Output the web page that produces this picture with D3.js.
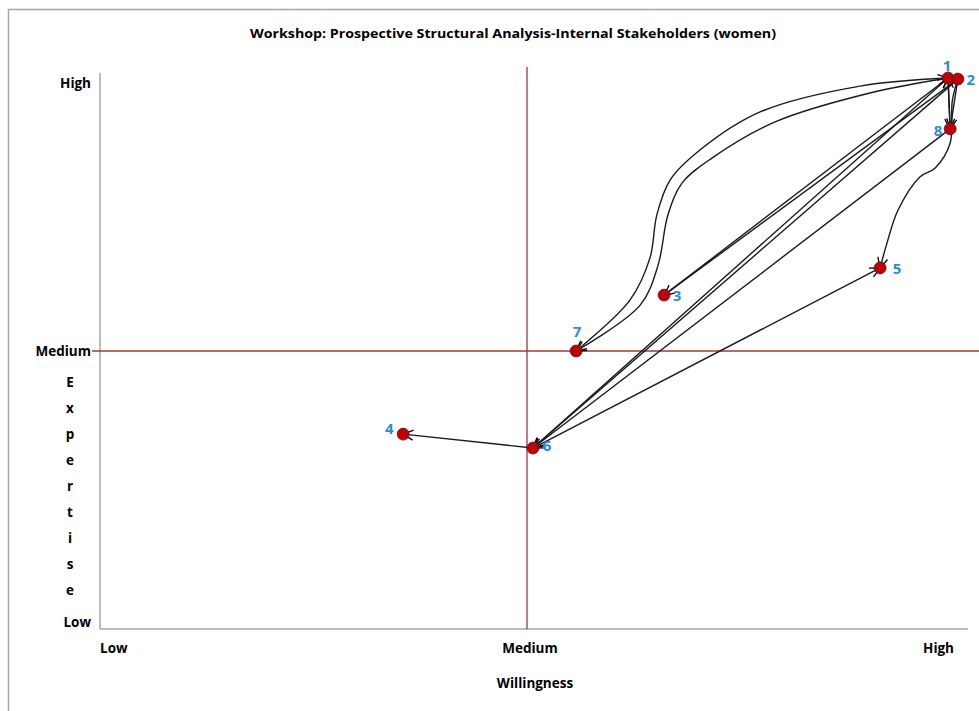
<!DOCTYPE html>
<html>
<head>
<meta charset="utf-8">
<script src="https://cdn.jsdelivr.net/npm/d3@7/dist/d3.min.js"></script>
<style>
  html, body { margin: 0; padding: 0; background: #fff; }
  svg { display: block; }
  text { font-family: "Open Sans", "Noto Sans", sans-serif; }
</style>
</head>
<body>
<svg id="chart" width="979" height="711"></svg>
<script>
// ---------- data ----------
const title = "Workshop: Prospective Structural Analysis-Internal Stakeholders (women)";
const xTitle = "Willingness";
const yTitle = "Expertise";
const levelLabels = ["Low", "Medium", "High"];   // tick labels for 0, 1, 2

const nodeIds    = ["1", "2", "3", "4", "5", "6", "7", "8"];
const willingness = [1.986, 2.009, 1.321, 0.710, 1.827, 1.014, 1.115, 1.991];
const expertise   = [1.982, 1.978, 1.201, 0.701, 1.299, 0.651, 1.000, 1.799];

// influence links: source, target, arrow ends, optional intermediate waypoints (data units)
const linkSource = ["6", "6", "1", "2", "8", "3", "2", "7", "7", "1", "2", "2", "8"];
const linkTarget = ["4", "5", "6", "6", "6", "1", "3", "1", "1", "8", "8", "5", "1"];
const linkArrows = ["end", "both", "end", "end", "end", "end", "end", "start", "both", "end", "end", "end", "end"];
const linkVia = [
  [], [], [], [], [], [], [],
  [[1.241, 1.183], [1.288, 1.335], [1.304, 1.489], [1.335, 1.615], [1.405, 1.723], [1.546, 1.860], [1.780, 1.953]],
  [[1.265, 1.165], [1.307, 1.309], [1.330, 1.489], [1.363, 1.604], [1.433, 1.694], [1.581, 1.824], [1.803, 1.928]],
  [], [],
  [[1.996, 1.900], [1.991, 1.748], [1.956, 1.658], [1.920, 1.626], [1.869, 1.507], [1.843, 1.388]],
  []
];

// ---------- layout / style ----------
const labelOffset = {
  "1": [-1, -12], "2": [13, 1], "3": [13, 1], "4": [-14, -5],
  "5": [17, 1], "6": [14, -2], "7": [1, -19], "8": [-12, 2]
};

const svg = d3.select("#chart");
const x = d3.scaleLinear().domain([0, 2]).range([100, 954]);
const y = d3.scaleLinear().domain([0, 2]).range([629, 73]);

// frame
svg.append("rect").attr("x", 8.5).attr("y", 9.5).attr("width", 1000).attr("height", 720)
  .attr("fill", "none").attr("stroke", "#a6a6a6").attr("stroke-width", 1.5);

// title
svg.append("text").attr("x", 513).attr("y", 38).attr("text-anchor", "middle")
  .attr("font-size", 12.5).attr("font-weight", "bold").attr("fill", "#000")
  .attr("textLength", 526).attr("lengthAdjust", "spacingAndGlyphs").text(title);

// axes lines
svg.append("line").attr("x1", x(0)).attr("x2", x(0)).attr("y1", y(2)).attr("y2", y(0))
  .attr("stroke", "#a6a6a6").attr("stroke-width", 1.5);
svg.append("line").attr("x1", x(0)).attr("x2", x(2.033)).attr("y1", y(0)).attr("y2", y(0))
  .attr("stroke", "#a6a6a6").attr("stroke-width", 1.5);

// quadrant lines (medium)
svg.append("line").attr("x1", x(0) - 8).attr("x2", 979).attr("y1", y(1)).attr("y2", y(1))
  .attr("stroke", "#a4343a").attr("stroke-width", 1.3);
svg.append("line").attr("x1", x(1)).attr("x2", x(1)).attr("y1", y(2) - 6).attr("y2", y(0))
  .attr("stroke", "#a4343a").attr("stroke-width", 1.3);

// y tick labels
const yLabelPos = [y(0) - 7, y(1), y(2) + 10];
levelLabels.forEach((t, i) => {
  svg.append("text").attr("x", 91).attr("y", yLabelPos[i]).attr("dy", "0.35em")
    .attr("text-anchor", "end").attr("font-size", 13.5).attr("font-weight", "bold").text(t);
});
// x tick labels
const xAnchors = ["start", "middle", "end"];
const xLabelPos = [x(0), x(1) + 3, x(2)];
levelLabels.forEach((t, i) => {
  svg.append("text").attr("x", xLabelPos[i]).attr("y", 648).attr("dy", "0.35em")
    .attr("text-anchor", xAnchors[i]).attr("font-size", 13.5).attr("font-weight", "bold").text(t);
});

// axis titles
svg.append("text").attr("x", 535).attr("y", 683).attr("dy", "0.35em").attr("text-anchor", "middle")
  .attr("font-size", 13.5).attr("font-weight", "bold").text(xTitle);
yTitle.split("").forEach((c, i) => {
  svg.append("text").attr("x", 70).attr("y", 382 + i * 26).attr("dy", "0.35em").attr("text-anchor", "middle")
    .attr("font-size", 13.5).attr("font-weight", "bold").text(c);
});

// arrow markers
const defs = svg.append("defs");
defs.append("marker").attr("id", "arrEnd").attr("viewBox", "0 0 12 12")
  .attr("refX", 11).attr("refY", 6).attr("markerWidth", 12).attr("markerHeight", 12)
  .attr("markerUnits", "userSpaceOnUse").attr("orient", "auto")
  .append("path").attr("d", "M1,1 L11,6 L1,11").attr("fill", "none").attr("stroke", "#000").attr("stroke-width", 1.3);
defs.append("marker").attr("id", "arrStart").attr("viewBox", "0 0 12 12")
  .attr("refX", 1).attr("refY", 6).attr("markerWidth", 12).attr("markerHeight", 12)
  .attr("markerUnits", "userSpaceOnUse").attr("orient", "auto")
  .append("path").attr("d", "M11,1 L1,6 L11,11").attr("fill", "none").attr("stroke", "#000").attr("stroke-width", 1.3);

const nodes = nodeIds.map((id, i) => ({ id, wx: willingness[i], ey: expertise[i] }));
const byId = Object.fromEntries(nodes.map(n => [n.id, n]));

const lineGen = d3.line().x(d => x(d[0])).y(d => y(d[1])).curve(d3.curveCatmullRom.alpha(0.5));

linkSource.forEach((s, i) => {
  const a = byId[s], b = byId[linkTarget[i]];
  const pts = [[a.wx, a.ey], ...linkVia[i], [b.wx, b.ey]];
  const p = svg.append("path").attr("d", lineGen(pts)).attr("fill", "none")
    .attr("stroke", "#1a1a1a").attr("stroke-width", 1.4);
  if (linkArrows[i] === "end" || linkArrows[i] === "both") p.attr("marker-end", "url(#arrEnd)");
  if (linkArrows[i] === "start" || linkArrows[i] === "both") p.attr("marker-start", "url(#arrStart)");
});

// nodes
svg.selectAll("circle.node").data(nodes).enter().append("circle")
  .attr("class", "node").attr("cx", d => x(d.wx)).attr("cy", d => y(d.ey)).attr("r", 6)
  .attr("fill", "#c00000").attr("stroke", "#4a1a3a").attr("stroke-width", 0.8);

// labels
svg.selectAll("text.nlabel").data(nodes).enter().append("text")
  .attr("class", "nlabel")
  .attr("x", d => x(d.wx) + labelOffset[d.id][0])
  .attr("y", d => y(d.ey) + labelOffset[d.id][1])
  .attr("dy", "0.35em").attr("text-anchor", "middle")
  .attr("font-size", 15).attr("font-weight", "bold").attr("fill", "#2e8bd6")
  .text(d => d.id);
</script>
</body>
</html>
